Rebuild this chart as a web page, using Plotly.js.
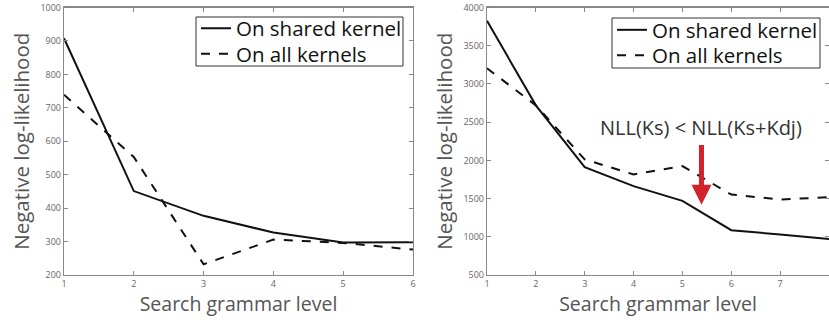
<!DOCTYPE html>
<html><head><meta charset="utf-8">
<script src="https://cdn.plot.ly/plotly-3.0.1.min.js"></script>
<style>html,body{margin:0;padding:0;overflow:hidden;background:#fff}</style>
</head><body><div id="chart" style="width:829px;height:320px"></div>
<script>
var levelsA = [1, 2, 3, 4, 5, 6];
var sharedA = [908, 451, 377, 327, 297, 298];
var allA = [739, 553, 232, 306, 296, 276];
var levelsB = [1, 2, 3, 4, 5, 6, 7, 8];
var sharedB = [3826, 2720, 1912, 1663, 1470, 1086, 1030, 972];
var allB = [3205, 2720, 2012, 1816, 1925, 1553, 1488, 1518];
var seriesNames = ['On shared kernel', 'On all kernels'];
var ticksA = [200, 300, 400, 500, 600, 700, 800, 900, 1000];
var ticksB = [500, 1000, 1500, 2000, 2500, 3000, 3500, 4000];
var noteText = 'NLL(Ks) < NLL(Ks+Kdj)';

var FONT = 'Open Sans, Noto Sans, sans-serif';
var lineSolid = {color: '#111', width: 2, dash: 'solid'};
var lineDash = {color: '#111', width: 2, dash: 'dash'};

var traces = [
  {x: levelsA, y: sharedA, name: seriesNames[0], mode: 'lines', line: lineSolid, xaxis: 'x', yaxis: 'y', legend: 'legend'},
  {x: levelsA, y: allA, name: seriesNames[1], mode: 'lines', line: lineDash, xaxis: 'x', yaxis: 'y', legend: 'legend2'},
  {x: levelsB, y: sharedB, name: seriesNames[0], mode: 'lines', line: lineSolid, xaxis: 'x2', yaxis: 'y2', legend: 'legend3'},
  {x: levelsB, y: allB, name: seriesNames[1], mode: 'lines', line: lineDash, xaxis: 'x2', yaxis: 'y2', legend: 'legend4'}
];

function axisBase() {
  return {
    showgrid: false, zeroline: false, showline: true, linecolor: '#888', linewidth: 1.2,
    mirror: 'ticks', ticks: 'inside', ticklen: 4, tickcolor: '#888', tickwidth: 1,
    tickfont: {family: FONT, size: 9, color: '#666'}, automargin: false, fixedrange: true
  };
}
var W = 829, H = 320;
var yDom = [(H - 275) / H, (H - 7.5) / H];
var xTitleFont = {family: FONT, size: 19.5, color: '#555'};
var yTitleFont = {family: FONT, size: 20.5, color: '#555'};

var xa = Object.assign(axisBase(), {domain: [64 / W, 413 / W], range: [1, 6], tickvals: levelsA,
  title: {text: 'Search grammar level', font: xTitleFont, standoff: 3}});
var ya = Object.assign(axisBase(), {domain: yDom, range: [200, 1000], tickvals: ticksA,
  title: {text: 'Negative log-likelihood', font: yTitleFont, standoff: 5}});
var xb = Object.assign(axisBase(), {domain: [487 / W, 1], range: [1, 8], tickvals: levelsB, anchor: 'y2',
  title: {text: 'Search grammar level', font: xTitleFont, standoff: 3}});
var yb = Object.assign(axisBase(), {domain: yDom, range: [500, 4000], tickvals: ticksB, anchor: 'x2',
  title: {text: 'Negative log-likelihood', font: yTitleFont, standoff: 5}});

var legendBase = {
  font: {family: FONT, size: 20.5, color: '#111'}, bgcolor: 'rgba(0,0,0,0)', borderwidth: 0,
  xref: 'paper', yref: 'paper', xanchor: 'left', yanchor: 'middle', itemwidth: 30
};
function leg(xpx, ypx) { return Object.assign({}, legendBase, {x: xpx / W, y: 1 - ypx / H}); }
function box(x0, y0, x1, y1) {
  return {type: 'rect', xref: 'paper', yref: 'paper', x0: x0 / W, x1: x1 / W, y0: 1 - y0 / H, y1: 1 - y1 / H,
    line: {color: '#333', width: 1}, fillcolor: 'rgba(0,0,0,0)', layer: 'below'};
}

var layout = {
  width: W, height: H, margin: {l: 0, r: 0, t: 0, b: 0},
  paper_bgcolor: '#fff', plot_bgcolor: '#fff',
  font: {family: FONT},
  xaxis: xa, yaxis: ya, xaxis2: xb, yaxis2: yb,
  legend: leg(196, 28.5), legend2: leg(196, 54),
  legend3: leg(612, 30), legend4: leg(612, 55.5),
  shapes: [box(196, 17, 403, 66), box(612, 18, 820, 68)],
  annotations: [
    {xref: 'x2', yref: 'y2', x: 5.39, y: 2427, text: noteText, showarrow: false,
     font: {family: FONT, size: 20, color: '#333'}, xanchor: 'center', yanchor: 'middle'},
    {xref: 'x2', yref: 'y2', x: 5.39, y: 1420, axref: 'x2', ayref: 'y2', ax: 5.39, ay: 2220,
     text: '', showarrow: true, arrowhead: 2, arrowsize: 0.8, arrowwidth: 5, arrowcolor: '#d4222a'}
  ],
  showlegend: true
};

Plotly.newPlot('chart', traces, layout, {staticPlot: true, displayModeBar: false});
</script>
</body></html>
